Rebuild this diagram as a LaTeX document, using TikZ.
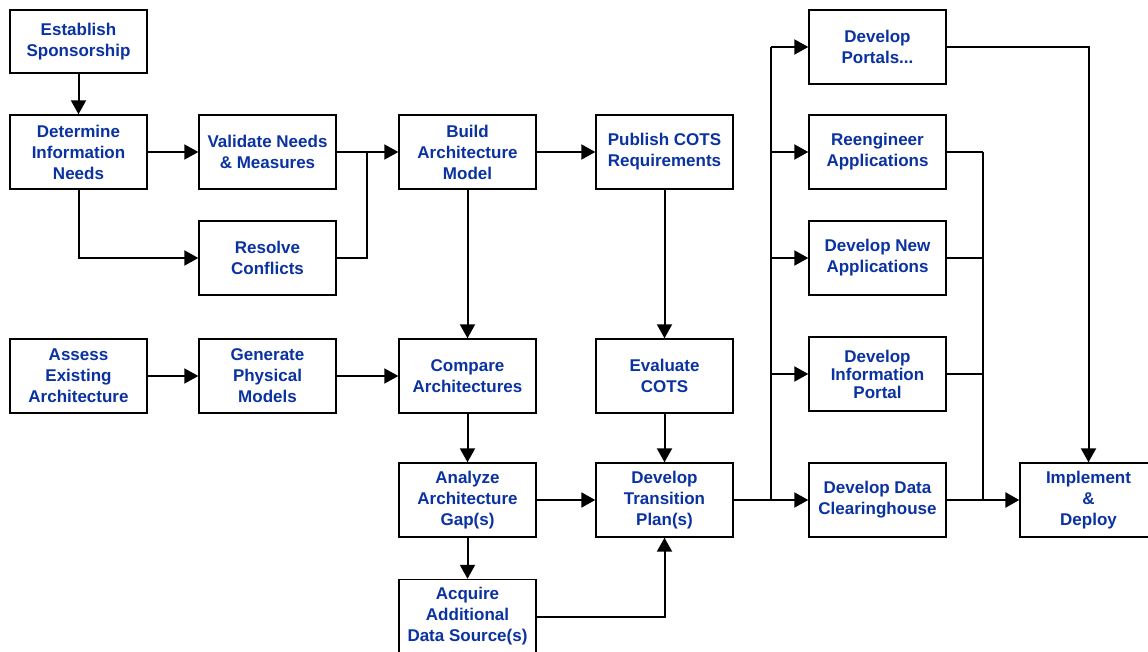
\documentclass[tikz,border=0pt]{standalone}
\usepackage{fontspec}
\setmainfont{Liberation Sans}
\usetikzlibrary{arrows.meta}
\definecolor{labelblue}{RGB}{10,50,160}
\tikzset{
  box/.style={draw=black, line width=1.4pt, fill=white, rectangle,
    minimum width=137pt, minimum height=74pt, inner sep=2pt,
    align=center, text=labelblue,
    font=\fontsize{17}{21}\selectfont\bfseries},
  tight/.style={font=\fontsize{17}{18}\selectfont\bfseries},
  link/.style={line width=2pt, draw=black},
  arr/.style={link, -{Triangle[length=14pt,width=15pt]}},
}
\begin{document}
\begin{tikzpicture}[x=1pt,y=-1pt]
\useasboundingbox (0,0) rectangle (1148,652);

% first column
\node[box, minimum height=63pt] (est) at (78.5,41.5) {Establish\\Sponsorship};
\node[box] (det) at (78.5,152) {Determine\\Information\\Needs};
\node[box] (ass) at (78.5,376) {Assess\\Existing\\Architecture};

% second column
\node[box] (val) at (267.5,152) {Validate Needs\\\& Measures};
\node[box] (res) at (267.5,258) {Resolve\\Conflicts};
\node[box] (gen) at (267.5,376) {Generate\\Physical\\Models};

% third column
\node[box] (bld) at (467.5,152) {Build\\Architecture\\Model};
\node[box] (cmp) at (467.5,376) {Compare\\Architectures};
\node[box] (ana) at (467.5,500) {Analyze\\Architecture\\Gap(s)};
\node[box] (acq) at (467.5,616.5) {Acquire\\Additional\\Data Source(s)};

% fourth column
\node[box] (pub) at (664.5,152) {Publish COTS\\Requirements};
\node[box] (eva) at (664.5,376) {Evaluate\\COTS};
\node[box] (dtp) at (664.5,500) {Develop\\Transition\\Plan(s)};

% fifth column
\node[box] (por) at (877.5,47) {Develop\\Portals...};
\node[box] (ree) at (877.5,152) {Reengineer\\Applications};
\node[box] (new) at (877.5,258) {Develop New\\Applications};
\node[box, tight] (inf) at (877.5,374) {Develop\\Information\\Portal};
\node[box] (dch) at (877.5,500) {Develop Data\\Clearinghouse};

% final step
\node[box] (imp) at (1088.5,500) {Implement\\\&\\Deploy};

% junction points
\coordinate (j1) at (367,152);
\coordinate (j2) at (771,500);
\coordinate (j3) at (983,500);

% needs and architecture model
\draw[arr] (est) -- (det);
\draw[arr] (det) -- (val);
\draw[arr] (det.south) |- (res.west);
\draw[link] (val.east) -- (j1);
\draw[link] (res.east) -| (j1);
\draw[arr] (j1) -- (bld.west);
\draw[arr] (bld) -- (pub);
\draw[arr] (bld) -- (cmp);

% existing architecture
\draw[arr] (ass) -- (gen);
\draw[arr] (gen) -- (cmp);

% COTS branch
\draw[arr] (pub) -- (eva);
\draw[arr] (eva) -- (dtp);

% gap analysis
\draw[arr] (cmp) -- (ana);
\draw[arr] (ana) -- (acq);
\draw[arr] (ana) -- (dtp);
\draw[arr] (acq.east) -| (dtp.south);

% fan out from the transition plan
\draw[link, line width=2.6pt] (dtp.east) -- (j2);
\draw[link, line width=2.6pt] (j2) -- (j2 |- por.west);
\draw[arr] (j2 |- por.west) -- (por.west);
\draw[arr] (j2 |- ree.west) -- (ree.west);
\draw[arr] (j2 |- new.west) -- (new.west);
\draw[arr] (j2 |- inf.west) -- (inf.west);
\draw[arr] (j2) -- (dch.west);

% fan in to implementation
\draw[link] (ree.east) -- (j3 |- ree.east);
\draw[link, line width=2.6pt] (j3 |- ree.east) -- (j3);
\draw[link] (new.east) -- (j3 |- new.east);
\draw[link] (inf.east) -- (j3 |- inf.east);
\draw[link] (dch.east) -- (j3);
\draw[arr, line width=2.6pt] (j3) -- (imp.west);
\draw[arr] (por.east) -| (imp.north);
\end{tikzpicture}
\end{document}
